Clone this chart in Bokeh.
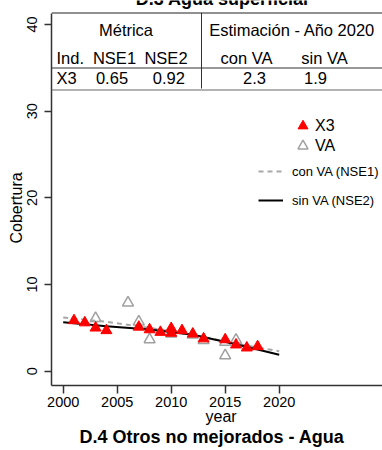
import math
from bokeh.plotting import figure
from bokeh.models import Range1d, FixedTicker, Label, Span, Legend, LegendItem, Title
from bokeh.embed import file_html
from bokeh.resources import INLINE

# ---------------- data ----------------
years_x3 = [2001, 2002, 2003, 2004, 2007, 2008, 2009, 2010, 2010, 2011, 2012, 2013, 2015, 2016, 2017, 2018]
cob_x3 = [5.85, 5.6, 5.0, 4.7, 5.1, 4.8, 4.5, 4.95, 4.4, 4.7, 4.3, 3.75, 3.65, 3.05, 2.7, 2.85]

years_va = [2003, 2006, 2007, 2008, 2010, 2012, 2013, 2015, 2015, 2016]
cob_va = [6.1, 7.9, 5.7, 3.65, 4.3, 4.2, 3.55, 3.35, 1.8, 3.6]

years_fit = [2000, 2004, 2008, 2012, 2016, 2020]
fit_con_va = [6.2, 5.7, 5.0, 4.2, 3.2, 2.3]
fit_sin_va = [5.65, 5.2, 4.8, 4.2, 3.1, 1.9]

x_ticks = [2000, 2005, 2010, 2015, 2020]
y_ticks = [0, 10, 20, 30, 40]

table_group_headers = ["Métrica", "Estimación - Año 2020"]
table_col_headers = ["Ind.", "NSE1", "NSE2", "con VA", "sin VA"]
table_row_values = ["X3", "0.65", "0.92", "2.3", "1.9"]

legend_point_labels = ["X3", "VA"]
legend_line_labels = ["con VA (NSE1)", "sin VA (NSE2)"]
title_top = "D.3 Agua superficial"
title_bottom = "D.4 Otros no mejorados - Agua"
x_label = "year"
y_label = "Cobertura"

# ---------------- layout ----------------
W, H = 382, 450
BL, BR, BT, BB = 51, 0, 0, 65
frame_w = W - BL - BR
frame_h = H - BT - BB
PX_YEAR = 10.8
PX_UNIT = 8.667
x_start = 2000 - 11.7 / PX_YEAR
y_start = -14.3 / PX_UNIT


def dx(X):
    """page pixel x -> data x"""
    return x_start + (X - BL) / PX_YEAR


def dy(Y):
    """page pixel y -> data y"""
    return y_start + ((H - BB) - Y) / PX_UNIT


FONT = "Liberation Sans"
AXIS_COL = "#333333"

p = figure(width=W, height=H,
           x_range=Range1d(x_start, x_start + frame_w / PX_YEAR),
           y_range=Range1d(y_start, y_start + frame_h / PX_UNIT),
           output_backend="svg", toolbar_location=None,
           min_border_left=BL, min_border_right=BR,
           min_border_top=BT, min_border_bottom=BB)
p.outline_line_color = None
p.xgrid.visible = False
p.ygrid.visible = False
p.background_fill_color = "white"
p.border_fill_color = "white"

p.xaxis.ticker = FixedTicker(ticks=x_ticks)
p.yaxis.ticker = FixedTicker(ticks=y_ticks)
p.yaxis.bounds = (y_start, dy(12.5))
for ax in (p.xaxis, p.yaxis):
    ax.axis_line_color = AXIS_COL
    ax.axis_line_width = 1.5
    ax.major_tick_line_color = AXIS_COL
    ax.major_tick_line_width = 1.5
    ax.major_tick_in = 0
    ax.minor_tick_line_color = None
    ax.major_label_text_font = FONT
    ax.major_label_text_font_size = "14.5px"
    ax.major_label_text_color = "black"
p.xaxis.major_tick_out = 8
p.yaxis.major_tick_out = 7
p.xaxis.major_label_standoff = 3
p.yaxis.major_label_standoff = 7
p.yaxis.major_label_orientation = "vertical"

# axis titles as panel titles so that they can sit off-centre like the reference
p.add_layout(Title(text=x_label, align="left", offset=154, vertical_align="top",
                   standoff=-4, text_font=FONT, text_font_size="16px",
                   text_font_style="normal", text_color="black"), "below")
p.add_layout(Title(text=y_label, align="left", offset=142, vertical_align="bottom",
                   standoff=0, text_font=FONT, text_font_size="16px",
                   text_font_style="normal", text_color="black"), "left")

# ---------------- data marks ----------------
r_va = p.scatter(years_va, cob_va, marker="triangle", size=11,
                 fill_color=None, line_color="#a0a0a0", line_width=1.5)
r_con = p.line(years_fit, fit_con_va, line_color="#a8a8a8", line_width=2, line_dash="5 4")
r_sin = p.line(years_fit, fit_sin_va, line_color="black", line_width=2)
r_x3 = p.scatter(years_x3, cob_x3, marker="triangle", size=11,
                 fill_color="#ff0000", line_color="#ff0000", line_width=1)


# ---------------- legends (one box per entry) ----------------
def add_legend(label, renderer, loc, gw, gh, standoff, size):
    p.add_layout(Legend(items=[LegendItem(label=label, renderers=[renderer])],
                        location=loc, orientation="vertical",
                        glyph_width=gw, glyph_height=gh, spacing=0, padding=0, margin=0,
                        label_standoff=standoff, label_text_font=FONT,
                        label_text_font_size=size, label_text_color="black",
                        border_line_color=None, background_fill_alpha=0))


add_legend(legend_point_labels[0], r_x3, (239, 247), 25, 25, 0, "16px")
add_legend(legend_point_labels[1], r_va, (239, 227), 25, 25, 0, "16px")
add_legend(legend_line_labels[0], r_con, (207, 204), 25, 20, 9, "13px")
add_legend(legend_line_labels[1], r_sin, (207, 175), 25, 20, 9, "13px")

# ---------------- table ----------------
for Y, col in ((12.5, "#222222"), (67.5, "#333333"), (89.5, "#666666")):
    p.add_layout(Span(location=dy(Y), dimension="width", line_color=col, line_width=1))
p.segment(x0=[dx(201)], y0=[dy(12.5)], x1=[dx(201)], y1=[dy(88)], line_color="#333333", line_width=1)

ANCHOR_SHIFT = 6.5   # Label anchor sits this far above the drawn baseline


def txt(X, Y, s, size="16.5px", align="center", bold=False):
    p.add_layout(Label(x=dx(X), y=dy(Y - ANCHOR_SHIFT), text=s, text_font=FONT,
                       text_font_size=size, text_align=align, text_baseline="alphabetic",
                       text_font_style="bold" if bold else "normal", text_color="black"))


txt(125.5, 35.5, table_group_headers[0])
txt(291.7, 35.5, table_group_headers[1])
txt(56, 63.5, table_col_headers[0], align="left")
txt(114, 63.5, table_col_headers[1])
txt(165.5, 63.5, table_col_headers[2])
txt(246, 63.5, table_col_headers[3])
txt(324, 63.5, table_col_headers[4])
txt(56, 83.5, table_row_values[0], align="left")
txt(111.5, 83.5, table_row_values[1])
txt(168.3, 83.5, table_row_values[2])
txt(254, 83.5, table_row_values[3])
txt(315, 83.5, table_row_values[4])

# panel title of the chart above (only its lower edge shows)
txt(221.7, 5, title_top, size="18px", bold=True)

# panel title of the chart below
p.add_layout(Title(text=title_bottom, align="left", offset=28, text_font=FONT,
                   text_font_size="18px", text_font_style="bold", text_color="black",
                   standoff=0), "below")

open("out.html", "w").write(file_html(p, INLINE))
